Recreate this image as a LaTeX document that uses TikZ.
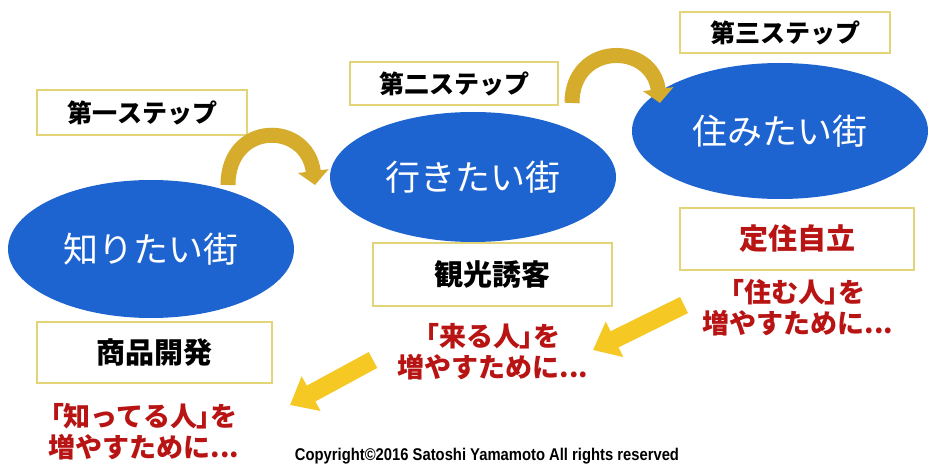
\documentclass[tikz,border=0pt]{standalone}
\usepackage{fontspec}
\usetikzlibrary{shapes.geometric,arrows.meta}
\newfontfamily\jp{Noto Sans CJK JP}
\newfontfamily\jpp{Noto Sans CJK JP}[RawFeature=+palt]
\newfontfamily\cpr{Liberation Sans}[FakeStretch=0.87]
\definecolor{ellblue}{RGB}{30,100,208}
\definecolor{boxline}{RGB}{228,212,120}
\definecolor{redtxt}{RGB}{185,20,20}
\definecolor{goldA}{RGB}{214,172,45}
\definecolor{yellowA}{RGB}{245,200,35}
\newcommand{\lbr}{{\jpp\bfseries 「}}
\newcommand{\rbr}{{\jpp\bfseries 」}}
\tikzset{
  city/.style={ellipse, fill=ellblue, text=white, inner sep=0pt, font=\jp\fontsize{35}{40}\selectfont},
  stepbox/.style={draw=boxline, line width=1.5pt, fill=white, inner sep=0pt, font=\jp\bfseries\fontsize{25}{28}\selectfont},
  goalbox/.style={draw=boxline, line width=1.5pt, fill=white, inner sep=0pt, font=\jp\bfseries\fontsize{29}{32}\selectfont},
  redtext/.style={text=redtxt, align=center, inner sep=0pt, font=\jp\bfseries\fontsize{27}{31}\selectfont},
  curvearrow/.style={draw=goldA, line width=15pt, -{Triangle[width=30pt,length=14pt]}},
  fatarrow/.style={draw=yellowA, line width=18pt, -{Triangle[width=38pt,length=24pt]}}
}
\begin{document}
\begin{tikzpicture}[x=1pt,y=1pt]
\fill[white] (0,0) rectangle (929,464);
\useasboundingbox (0,0) rectangle (929,464);
% cities
\node[city, minimum width=286pt, minimum height=138pt] (e1) at (151,215) {知りたい街};
\node[city, minimum width=286pt, minimum height=130pt] (e2) at (473,287) {行きたい街};
\node[city, minimum width=296pt, minimum height=136pt] (e3) at (780,333) {住みたい街};
% step labels
\node[stepbox, minimum width=210pt, minimum height=45pt] (s1) at (142,351.5) {第一ステップ};
\node[stepbox, minimum width=208pt, minimum height=43pt] (s2) at (454,380.5) {第二ステップ};
\node[stepbox, minimum width=210pt, minimum height=41pt] (s3) at (785,431.5) {第三ステップ};
% goal boxes
\node[goalbox, minimum width=235pt, minimum height=61pt] (g1) at (154.5,111.5) {商品開発};
\node[goalbox, minimum width=239pt, minimum height=63pt] (g2) at (492.5,189.5) {観光誘客};
\node[goalbox, minimum width=234pt, minimum height=62pt, text=redtxt] (g3) at (797,225) {定住自立};
% red texts
\node[redtext] (t1) at (144,32) {\lbr 知ってる人\rbr を\\増やすために...};
\node[redtext] (t2) at (493,112) {\lbr 来る人\rbr を\\増やすために...};
\node[redtext] (t3) at (798,156) {\lbr 住む人\rbr を\\増やすために...};
% curved arrows
\coordinate (a1s) at (228,279);
\coordinate (a1e) at (315,279);
\coordinate (a2s) at (572,361);
\coordinate (a2e) at (660,361);
\draw[curvearrow] (a1s) .. controls +(0,64) and +(-8,64) .. (a1e);
\draw[curvearrow] (a2s) .. controls +(0,61) and +(-8,61) .. (a2e);
% straight arrows
\coordinate (f1s) at (684,159);
\coordinate (f1e) at (593,114);
\coordinate (f2s) at (373,104);
\coordinate (f2e) at (290,59);
\draw[fatarrow] (f1s) -- (f1e);
\draw[fatarrow] (f2s) -- (f2e);
% copyright
\node[inner sep=0pt, font=\cpr\bfseries\fontsize{17}{19}\selectfont] (cp) at (487,8) {Copyright©2016 Satoshi Yamamoto All rights reserved};
\end{tikzpicture}
\end{document}
